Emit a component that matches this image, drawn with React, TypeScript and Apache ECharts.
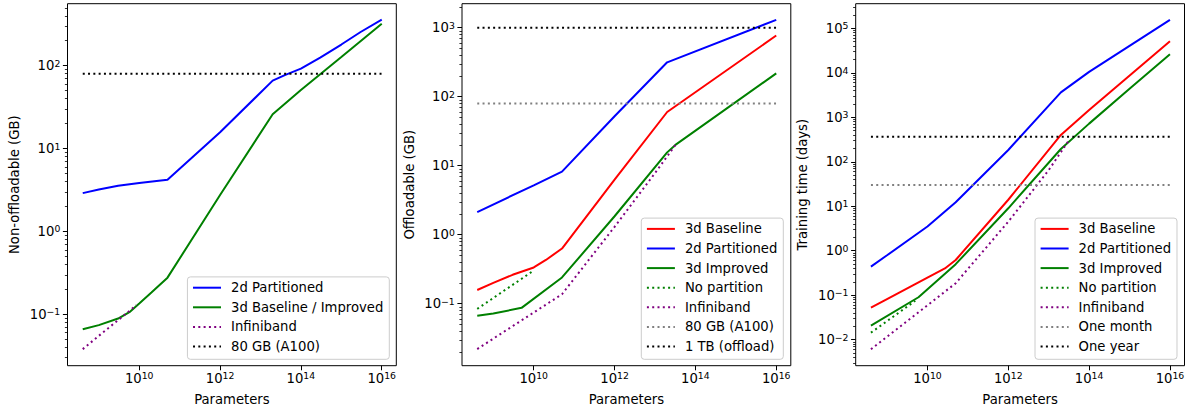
import React, { useEffect, useRef } from "react";
import * as echarts from "echarts";

const FONT = "DejaVu Sans";

// ---------- Panel 1: Non-offloadable (GB) ----------
const P1_2D_X = [4e8, 1e9, 3e9, 1e10, 5e10, 1e12, 2e13, 4e13, 1e14, 3e14, 1e15, 3e15, 1e16];
const P1_2D_Y = [2.9, 3.2, 3.55, 3.85, 4.2, 15.7, 66, 77, 92, 125, 180, 255, 360];
const P1_3D_X = [4e8, 1e9, 3e9, 6e9, 1e10, 2e10, 5e10, 1e12, 2e13, 1e14, 1e15, 1e16];
const P1_3D_Y = [0.066, 0.074, 0.089, 0.108, 0.135, 0.183, 0.277, 2.75, 26, 51, 127, 320];
const P1_IB_X = [4e8, 1e9, 3e9, 8.5e9];
const P1_IB_Y = [0.038, 0.055, 0.085, 0.129];
const P1_A100_X = [4e8, 1e16];
const P1_A100_Y = [80, 80];

// ---------- Panel 2: Offloadable (GB) ----------
const P2_BASE_X = [4e8, 1e9, 3e9, 1e10, 2e10, 5e10, 1e12, 2e13, 1e16];
const P2_BASE_Y = [0.158, 0.2, 0.262, 0.335, 0.43, 0.63, 6.3, 60, 770];
const P2_2D_X = [4e8, 1e10, 5e10, 1e12, 2e13, 1e16];
const P2_2D_Y = [2.13, 5.2, 8.2, 52, 315, 1300];
const P2_IMP_X = [4e8, 1e9, 5e9, 5e10, 1e12, 2e13, 3.2e13, 1e16];
const P2_IMP_Y = [0.067, 0.072, 0.087, 0.24, 1.85, 15.6, 20, 218];
const P2_NOPART_X = [4e8, 9e9];
const P2_NOPART_Y = [0.084, 0.29];
const P2_IB_X = [4e8, 5e10, 1e12, 1e13, 3.2e13];
const P2_IB_Y = [0.022, 0.137, 1.3, 7.8, 20];
const P2_A100_X = [4e8, 1e16];
const P2_A100_Y = [80, 80];
const P2_TB_X = [4e8, 1e16];
const P2_TB_Y = [1000, 1000];

// ---------- Panel 3: Training time (days) ----------
const P3_BASE_X = [4e8, 1e9, 1e10, 2.7e10, 5e10, 1e12, 2e13, 1e14, 1e16];
const P3_BASE_Y = [0.0525, 0.082, 0.25, 0.4, 0.62, 14, 400, 1450, 51000];
const P3_2D_X = [4e8, 1e9, 1e10, 5e10, 1e12, 2e13, 1e14, 1e16];
const P3_2D_Y = [0.44, 0.79, 3.5, 12.3, 184, 3640, 10500, 154000];
const P3_IMP_X = [4e8, 6e9, 5e10, 1e12, 2e13, 1e14, 1e15, 1e16];
const P3_IMP_Y = [0.0207, 0.09, 0.5, 9, 194, 720, 4400, 26000];
const P3_NOPART_X = [4e8, 5e9];
const P3_NOPART_Y = [0.0144, 0.075];
const P3_IB_X = [4e8, 5e10, 1e12, 1e13, 3e13];
const P3_IB_Y = [0.0061, 0.186, 4.5, 65, 282];
const P3_MONTH_X = [4e8, 1e16];
const P3_MONTH_Y = [30, 30];
const P3_YEAR_X = [4e8, 1e16];
const P3_YEAR_Y = [365, 365];

// ---------- Axes ----------
const X_TICKS = [1e10, 1e12, 1e14, 1e16];
const Y_TICKS = [
  [0.1, 1, 10, 100],
  [0.1, 1, 10, 100, 1000],
  [0.01, 0.1, 1, 10, 100, 1000, 10000, 100000],
];
const Y_NAMES = ["Non-offloadable (GB)", "Offloadable (GB)", "Training time (days)"];
const X_NAME = "Parameters";

// layout (pixels / log10 extents)
const GRID_LEFT = [67.5, 462, 855.7];
const GRID_TOP = 3.7;
const GRID_W = 328.8;
const GRID_H = 362;
const X_LOG_RANGE = [8.225, 16.36];
const Y_LOG_RANGE = [
  [-1.62, 2.748],
  [-1.899, 3.348],
  [-2.584, 5.553],
];
const LEGEND_RIGHT = [389.3, 783.3, 1177];

const BLUE = "#0000ff";
const RED = "#ff0000";
const GREEN = "#008000";
const PURPLE = "#800080";
const BLACK = "#000000";
const GRAY = "#808080";
const DOT = [2, 3.3];

type S = { name: string; xs: number[]; ys: number[]; color: string; dotted: boolean };

const PANELS: S[][] = [
  [
    { name: "2d Partitioned", xs: P1_2D_X, ys: P1_2D_Y, color: BLUE, dotted: false },
    { name: "3d Baseline / Improved", xs: P1_3D_X, ys: P1_3D_Y, color: GREEN, dotted: false },
    { name: "Infiniband", xs: P1_IB_X, ys: P1_IB_Y, color: PURPLE, dotted: true },
    { name: "80 GB (A100)", xs: P1_A100_X, ys: P1_A100_Y, color: BLACK, dotted: true },
  ],
  [
    { name: "3d Baseline", xs: P2_BASE_X, ys: P2_BASE_Y, color: RED, dotted: false },
    { name: "2d Partitioned", xs: P2_2D_X, ys: P2_2D_Y, color: BLUE, dotted: false },
    { name: "3d Improved", xs: P2_IMP_X, ys: P2_IMP_Y, color: GREEN, dotted: false },
    { name: "No partition", xs: P2_NOPART_X, ys: P2_NOPART_Y, color: GREEN, dotted: true },
    { name: "Infiniband", xs: P2_IB_X, ys: P2_IB_Y, color: PURPLE, dotted: true },
    { name: "80 GB (A100)", xs: P2_A100_X, ys: P2_A100_Y, color: GRAY, dotted: true },
    { name: "1 TB (offload)", xs: P2_TB_X, ys: P2_TB_Y, color: BLACK, dotted: true },
  ],
  [
    { name: "3d Baseline", xs: P3_BASE_X, ys: P3_BASE_Y, color: RED, dotted: false },
    { name: "2d Partitioned", xs: P3_2D_X, ys: P3_2D_Y, color: BLUE, dotted: false },
    { name: "3d Improved", xs: P3_IMP_X, ys: P3_IMP_Y, color: GREEN, dotted: false },
    { name: "No partition", xs: P3_NOPART_X, ys: P3_NOPART_Y, color: GREEN, dotted: true },
    { name: "Infiniband", xs: P3_IB_X, ys: P3_IB_Y, color: PURPLE, dotted: true },
    { name: "One month", xs: P3_MONTH_X, ys: P3_MONTH_Y, color: GRAY, dotted: true },
    { name: "One year", xs: P3_YEAR_X, ys: P3_YEAR_Y, color: BLACK, dotted: true },
  ],
];

const supLabel = (v: number) => {
  const e = Math.round(Math.log10(v));
  return `{b|10}{s|${e < 0 ? "\u2212" + -e : e}}`;
};

const RICH = {
  b: { fontSize: 13.2, lineHeight: 14, fontFamily: FONT, color: "#000" },
  s: { fontSize: 9.3, lineHeight: 8, verticalAlign: "top", fontFamily: FONT, color: "#000" },
};

function minorTicks(lo: number, hi: number): number[] {
  const out: number[] = [];
  for (let n = Math.floor(lo); n <= Math.ceil(hi); n++) {
    for (let k = 2; k <= 9; k++) {
      const v = k * Math.pow(10, n);
      const l = Math.log10(v);
      if (l > lo && l < hi) out.push(v);
    }
  }
  return out;
}

function buildOption() {
  const grid: any[] = [];
  const xAxis: any[] = [];
  const yAxis: any[] = [];
  const series: any[] = [];
  const legend: any[] = [];

  PANELS.forEach((panel, i) => {
    grid.push({
      left: GRID_LEFT[i],
      top: GRID_TOP,
      width: GRID_W,
      height: GRID_H,
      show: true,
      borderColor: "#000",
      borderWidth: 1,
      backgroundColor: "transparent",
    });
    xAxis.push({
      type: "log",
      gridIndex: i,
      min: Math.pow(10, X_LOG_RANGE[0]),
      max: Math.pow(10, X_LOG_RANGE[1]),
      name: X_NAME,
      nameLocation: "middle",
      nameGap: 27,
      nameTextStyle: { fontFamily: FONT, fontSize: 13.2, color: "#000" },
      axisLine: { show: false },
      splitLine: { show: false },
      minorTick: { show: false },
      axisTick: {
        show: true,
        length: 4.6,
        lineStyle: { color: "#000", width: 1 },
        customValues: X_TICKS,
      },
      axisLabel: {
        margin: 5.6,
        formatter: supLabel,
        rich: RICH,
        customValues: X_TICKS,
      },
    });
    const [ylo, yhi] = Y_LOG_RANGE[i];
    yAxis.push({
      type: "log",
      gridIndex: i,
      position: "left",
      min: Math.pow(10, ylo),
      max: Math.pow(10, yhi),
      name: Y_NAMES[i],
      nameLocation: "middle",
      nameGap: 46.5,
      nameTextStyle: { fontFamily: FONT, fontSize: 13.2, color: "#000" },
      axisLine: { show: false },
      splitLine: { show: false },
      axisTick: {
        show: true,
        length: 4.6,
        lineStyle: { color: "#000", width: 1 },
        customValues: Y_TICKS[i],
      },
      axisLabel: {
        margin: 7.2,
        formatter: supLabel,
        rich: RICH,
        customValues: Y_TICKS[i],
      },
    });
    yAxis.push({
      type: "log",
      gridIndex: i,
      position: "right",
      offset: -GRID_W,
      min: Math.pow(10, ylo),
      max: Math.pow(10, yhi),
      axisLine: { show: false },
      splitLine: { show: false },
      axisLabel: { show: false },
      axisTick: {
        show: true,
        inside: true,
        length: 2.6,
        lineStyle: { color: "#000", width: 0.8 },
        customValues: minorTicks(ylo, yhi),
      },
    });

    const names: string[] = [];
    panel.forEach((s) => {
      const nm = `${i + 1}|${s.name}`;
      names.push(nm);
      series.push({
        type: "line",
        name: nm,
        xAxisIndex: i,
        yAxisIndex: 2 * i,
        data: s.xs.map((x, k) => [x, s.ys[k]]),
        symbol: "none",
        showSymbol: false,
        silent: true,
        clip: true,
        lineStyle: { color: s.color, width: 2, type: s.dotted ? DOT : "solid" },
        itemStyle: { color: s.color },
      });
    });

    legend.push({
      orient: "vertical",
      right: 1189 - LEGEND_RIGHT[i],
      bottom: 51.7,
      data: names,
      formatter: (n: string) => n.slice(2),
      itemWidth: 28,
      itemHeight: 14,
      itemGap: 5.6,
      padding: [3.8, 6, 5.8, 4.6],
      backgroundColor: "rgba(255,255,255,0.8)",
      borderColor: "#cccccc",
      borderWidth: 1,
      borderRadius: 3,
      selectedMode: false,
      itemStyle: { opacity: 0 },
      lineStyle: { width: 2 },
      textStyle: {
        fontFamily: FONT,
        fontSize: 13.2,
        color: "#000",
        lineHeight: 14,
        padding: [0, 0, 0, 5],
      },
    });
  });

  return {
    animation: false,
    backgroundColor: "#ffffff",
    textStyle: { fontFamily: FONT },
    grid,
    xAxis,
    yAxis,
    series,
    legend,
  };
}

export default function App() {
  const ref = useRef<HTMLDivElement>(null);
  useEffect(() => {
    if (!ref.current) return;
    const chart = echarts.init(ref.current, undefined, { renderer: "svg" });
    chart.setOption(buildOption() as any);
    return () => chart.dispose();
  }, []);
  return (
    <div
      ref={ref}
      style={{ position: "fixed", left: 0, top: 0, width: 1189, height: 411, background: "#fff" }}
    />
  );
}
